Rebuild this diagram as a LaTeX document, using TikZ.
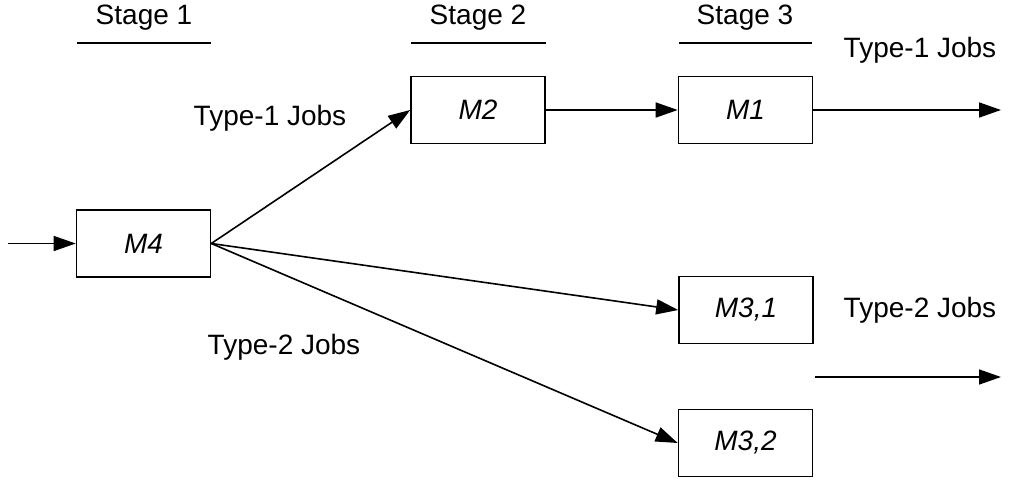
\documentclass[tikz,border=0pt]{standalone}
\usepackage{fontspec}
\setmainfont{Liberation Sans}
\usetikzlibrary{arrows.meta}
\begin{document}
\begin{tikzpicture}[x=1pt,y=-1pt,
  machine/.style={draw,line width=1.6pt,minimum width=134pt,minimum height=67pt,inner sep=0pt,font=\fontsize{28}{32}\selectfont\itshape},
  lbl/.style={font=\fontsize{28}{32}\selectfont,inner sep=0pt},
  flow/.style={line width=1.6pt,-{Triangle[length=22pt,width=15pt]}},
  rule/.style={line width=1.8pt}]
\useasboundingbox (0,0) rectangle (1013,483);

% machines
\node[machine] (m4)  at (143.5,243.5) {M4};
\node[machine] (m2)  at (478,110)   {M2};
\node[machine] (m1)  at (745.5,110) {M1};
\node[machine] (m31) at (746,310)   {M3,1};
\node[machine] (m32) at (745.5,443) {M3,2};

% stage headings
\node[lbl] (s1) at (144,18) {Stage 1};
\node[lbl] (s2) at (478,18) {Stage 2};
\node[lbl] (s3) at (745,18) {Stage 3};
\draw[rule] (77,43) -- (211,43);
\draw[rule] (411,43) -- (546,43);
\draw[rule] (679,43) -- (812,43);

% job type labels
\node[lbl] (t1a) at (270,118) {Type-1 Jobs};
\node[lbl] (t1b) at (920,50)  {Type-1 Jobs};
\node[lbl] (t2a) at (284,347) {Type-2 Jobs};
\node[lbl] (t2b) at (920,310) {Type-2 Jobs};

% flows
\coordinate (in) at (8,243.5);
\coordinate (out1) at (1001,110);
\coordinate (a2) at (815,377);
\coordinate (out2) at (1001,377);
\draw[flow] (in) -- (m4.west);
\draw[flow] (m4.east) -- (m2.west);
\draw[flow] (m4.east) -- (m31.west);
\draw[flow] (m4.east) -- (m32.west);
\draw[flow] (m2.east) -- (m1.west);
\draw[flow] (m1.east) -- (out1);
\draw[flow] (a2) -- (out2);
\end{tikzpicture}
\end{document}
